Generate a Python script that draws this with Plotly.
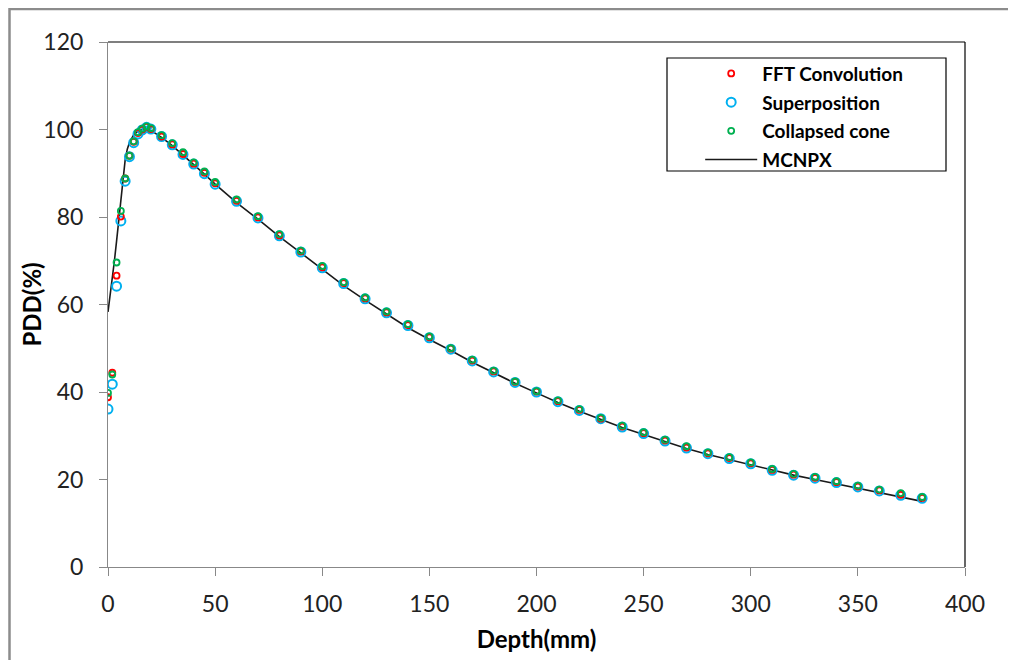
import plotly.graph_objects as go

depth = [0, 2, 4, 6, 8, 10, 12, 14, 16, 18, 20, 25, 30, 35, 40, 45, 50,
         60, 70, 80, 90, 100, 110, 120, 130, 140, 150, 160, 170, 180, 190, 200,
         210, 220, 230, 240, 250, 260, 270, 280, 290, 300, 310, 320, 330, 340,
         350, 360, 370, 380]

fft_conv = [38.8, 44.4, 66.6, 80.1, 88.8, 94.0, 97.2, 99.2, 100.0, 100.6, 100.1,
            98.4, 96.6, 94.4, 92.2, 90.1, 87.7,
            83.7, 79.9, 75.8, 72.1, 68.5, 64.9, 61.4, 58.2, 55.3, 52.5, 49.9, 47.2,
            44.7, 42.3, 40.1, 37.9, 35.9, 33.9, 32.1, 30.6, 28.9, 27.3, 26.0, 24.9,
            23.7, 22.2, 21.1, 20.4, 19.4, 18.4, 17.5, 16.5, 15.8]

superposition = [36.1, 41.8, 64.2, 79.1, 88.2, 93.8, 97.0, 99.0, 99.9, 100.5, 100.1,
                 98.4, 96.5, 94.3, 92.1, 89.9, 87.5,
                 83.6, 79.8, 75.7, 72.0, 68.4, 64.8, 61.3, 58.1, 55.2, 52.4, 49.8, 47.1,
                 44.6, 42.2, 40.0, 37.8, 35.8, 33.9, 32.0, 30.5, 28.8, 27.2, 25.9, 24.8,
                 23.6, 22.1, 21.0, 20.3, 19.3, 18.3, 17.4, 16.4, 15.7]

collapsed_cone = [39.8, 44.0, 69.6, 81.4, 88.8, 94.0, 97.3, 99.4, 100.2, 100.7, 100.3,
                  98.7, 96.9, 94.8, 92.5, 90.4, 88.0,
                  84.0, 80.2, 76.1, 72.3, 68.8, 65.1, 61.6, 58.4, 55.5, 52.7, 50.0, 47.4,
                  44.9, 42.4, 40.2, 38.1, 36.1, 34.1, 32.3, 30.8, 29.1, 27.6, 26.2, 25.1,
                  23.9, 22.4, 21.3, 20.6, 19.6, 18.6, 17.7, 16.9, 16.0]

mcnpx_depth = [0, 1, 2, 3, 4, 5, 6, 7, 8, 9, 10, 12, 14, 16, 18, 20, 25, 30, 35, 40,
               45, 50, 60, 70, 80, 90, 100, 110, 120, 130, 140, 150, 160, 170, 180,
               190, 200, 210, 220, 230, 240, 250, 260, 270, 280, 290, 300, 310, 320,
               330, 340, 350, 360, 370, 380]
mcnpx = [58.3, 62.0, 66.0, 70.0, 74.5, 79.0, 83.5, 89.0, 93.0, 95.5, 97.0, 98.8,
         99.6, 100.0, 100.2, 99.8, 98.2, 96.3, 94.2, 92.0, 89.8, 87.5, 83.3, 79.5,
         75.5, 71.8, 68.0, 64.3, 61.0, 57.8, 54.7, 52.0, 49.5, 46.8, 44.4, 42.0,
         39.8, 37.6, 35.6, 33.7, 31.9, 30.3, 28.7, 27.1, 25.7, 24.5, 23.3, 22.1,
         21.0, 20.0, 19.0, 17.9, 17.0, 16.0, 15.0]

FONT = "Lato"
fig = go.Figure()

fig.add_trace(go.Scatter(x=mcnpx_depth, y=mcnpx, mode="lines", name="MCNPX",
                         line=dict(color="#1a1a1a", width=1.6),
                         legendrank=4, legendgroup="d"))
fig.add_trace(go.Scatter(x=depth, y=superposition, mode="markers", name="Superposition",
                         marker=dict(symbol="circle-open", size=9, color="#00B0F0",
                                     line=dict(width=2, color="#00B0F0")),
                         legendrank=2, legendgroup="b"))
fig.add_trace(go.Scatter(x=depth, y=fft_conv, mode="markers", name="FFT Convolution",
                         marker=dict(symbol="circle-open", size=6, color="#FF0000",
                                     line=dict(width=1.8, color="#FF0000")),
                         legendrank=1, legendgroup="a"))
fig.add_trace(go.Scatter(x=depth, y=collapsed_cone, mode="markers", name="Collapsed cone",
                         marker=dict(symbol="circle-open", size=6, color="#00B050",
                                     line=dict(width=1.8, color="#00B050")),
                         legendrank=3, legendgroup="c"))

axis_common = dict(showgrid=False, zeroline=False, showline=True, linecolor="#888888",
                   linewidth=1, ticks="outside", ticklen=8, tickcolor="#888888",
                   tickfont=dict(family=FONT, size=23, color="#222222"))

# page body has an 8px margin, so the figure is sized/offset to land the plot area
W, H = 1008, 652
PW, PH = 857, 525
fig.update_layout(
    width=W, height=H,
    margin=dict(l=100, r=51, t=34, b=93),
    paper_bgcolor="white", plot_bgcolor="white",
    xaxis=dict(range=[0, 400], dtick=50, ticklabelstandoff=8,
               title=dict(text="<b>Depth(mm)</b>", font=dict(family=FONT, size=24, color="black"),
                          standoff=15),
               **axis_common),
    yaxis=dict(range=[0, 120], dtick=20, ticklabelstandoff=11, **axis_common),
    legend=dict(x=0.691, y=0.976, xanchor="left", yanchor="top",
                bgcolor="rgba(0,0,0,0)", borderwidth=0, traceorder="grouped",
                tracegroupgap=1,
                font=dict(family=FONT, size=19, color="black", weight="bold"),
                itemwidth=52),
    showlegend=True,
    annotations=[
        dict(text="<b>PDD(%)</b>", xref="paper", yref="paper",
             x=(31 - 108) / PW, y=0.5, xanchor="center", yanchor="middle",
             textangle=-90, showarrow=False,
             font=dict(family=FONT, size=24, color="black")),
    ],
    shapes=[
        dict(type="line", xref="paper", yref="paper", x0=0, x1=1, y0=1, y1=1,
             line=dict(color="black", width=1.2)),
        dict(type="line", xref="paper", yref="paper", x0=1, x1=1, y0=0, y1=1,
             line=dict(color="black", width=1.2)),
        dict(type="rect", xref="paper", yref="paper",
             x0=(667 - 108) / PW, x1=(946 - 108) / PW,
             y0=(567 - 171) / PH, y1=(567 - 58) / PH,
             line=dict(color="black", width=1.2)),
        dict(type="rect", xref="paper", yref="paper",
             x0=(9.5 - 108) / PW, x1=1.3, y0=-0.5, y1=(567 - 9) / PH,
             line=dict(color="#8c8c8c", width=2.5)),
    ],
)

fig.write_html("out.html")
